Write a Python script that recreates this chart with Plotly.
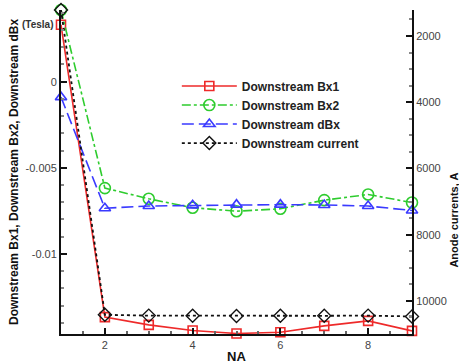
import plotly.graph_objects as go

# Anode number along the channel
na = [1, 2, 3, 4, 5, 6, 7, 8, 9]

# Magnetic field readings (Tesla)
bx1 = [0.0033, -0.01367, -0.01412, -0.01445, -0.01462, -0.01455, -0.01418, -0.01389, -0.01447]
bx2 = [0.00416, -0.00618, -0.0068, -0.00732, -0.00752, -0.00738, -0.00688, -0.00655, -0.00702]
dbx = [-0.0009, -0.00735, -0.00722, -0.00718, -0.00714, -0.00714, -0.00716, -0.00722, -0.00748]

# Anode currents (A)
current = [1215, 10420, 10445, 10450, 10455, 10450, 10450, 10445, 10470]

left_ticks = [0, -0.005, -0.01]
left_labels = ["0", "-0.005", "-0.01"]
right_ticks = [2000, 4000, 6000, 8000, 10000]
right_labels = ["2000", "4000", "6000", "8000", "10000"]
x_ticks = [2, 4, 6, 8]

RED = "#ee2a2a"
GREEN = "#2ecc2e"
BLUE = "#3a3aff"
BLACK = "#111111"
FONT = "Liberation Sans, Arial, sans-serif"

fig = go.Figure()

fig.add_trace(go.Scatter(
    x=na, y=bx1, name="Downstream Bx1", mode="lines+markers", cliponaxis=False,
    line=dict(color=RED, width=1.6, dash="solid"),
    marker=dict(symbol="square-open", size=9, color=RED, line=dict(width=1.6)),
))
fig.add_trace(go.Scatter(
    x=na, y=bx2, name="Downstream Bx2", mode="lines+markers", cliponaxis=False,
    line=dict(color=GREEN, width=1.6, dash="dashdot"),
    marker=dict(symbol="circle-open", size=11, color=GREEN, line=dict(width=1.6)),
))
fig.add_trace(go.Scatter(
    x=na, y=dbx, name="Downstream dBx", mode="lines+markers", cliponaxis=False,
    line=dict(color=BLUE, width=1.6, dash="12px,5px"),
    marker=dict(symbol="triangle-up-open", size=10, color=BLUE, line=dict(width=1.6)),
))
fig.add_trace(go.Scatter(
    x=na, y=current, name="Downstream current", mode="lines+markers", cliponaxis=False,
    yaxis="y2",
    line=dict(color=BLACK, width=1.8, dash="dot"),
    marker=dict(symbol="diamond-open", size=10, color=BLACK, line=dict(width=1.4)),
))

tick_font = dict(family=FONT, size=11, color="#444444")
title_font = dict(family=FONT, size=12, color="#111111")

fig.update_layout(
    width=459, height=364,
    margin=dict(l=61, r=47, t=10, b=30),
    paper_bgcolor="white", plot_bgcolor="white",
    showlegend=True,
    legend=dict(
        x=0.33, y=0.81, xanchor="left", yanchor="top",
        bgcolor="rgba(0,0,0,0)", borderwidth=0,
        font=dict(family=FONT, size=12, color="#222222", weight="bold"),
        itemwidth=55, tracegroupgap=0,
    ),
    xaxis=dict(
        range=[1, 9], tickvals=x_ticks, ticks="inside", ticklen=6, tickwidth=1.5,
        tickcolor="#111", showline=True, linecolor="#111", linewidth=2,
        showgrid=False, zeroline=False, tickfont=tick_font, automargin=False,
        minor=dict(dtick=0.5, tick0=1, ticks="inside", ticklen=3, tickcolor="#666", showgrid=False),
        title=dict(text="<b>NA</b>", font=dict(family=FONT, size=13, color="#111"), standoff=2),
    ),
    yaxis=dict(
        range=[-0.01465, 0.00416], tickvals=left_ticks, ticktext=left_labels,
        ticks="inside", ticklen=6, tickwidth=1.5, tickcolor="#111",
        showline=True, linecolor="#111", linewidth=2, automargin=False,
        showgrid=False, zeroline=False, tickfont=tick_font,
        minor=dict(dtick=0.001, tick0=0, ticks="inside", ticklen=3, tickcolor="#888", showgrid=False),
        title=dict(text="<b>Downstream Bx1, Downstream Bx2, Downstream dBx</b>", font=title_font, standoff=4),
    ),
    yaxis2=dict(
        overlaying="y", side="right", range=[11000, 1215],
        tickvals=right_ticks, ticktext=right_labels,
        ticks="inside", ticklen=6, tickwidth=1.5, tickcolor="#111",
        showline=True, linecolor="#111", linewidth=2, automargin=False,
        showgrid=False, zeroline=False, tickfont=tick_font,
        minor=dict(dtick=500, tick0=0, ticks="inside", ticklen=3, tickcolor="#888", showgrid=False),
    ),
    annotations=[
        dict(text="<b>(Tesla)</b>", x=0, xref="paper", xanchor="right", xshift=-5,
             y=bx1[0], yref="y", yanchor="middle", showarrow=False,
             font=dict(family=FONT, size=10, color="#333")),
        dict(text="<b>Anode currents, A</b>", x=1, xref="paper", xshift=42, xanchor="center",
             y=0.35, yref="paper", yanchor="middle", textangle=-90, showarrow=False,
             font=dict(family=FONT, size=11, color="#111")),
    ],
)

fig.write_html("out.html")
